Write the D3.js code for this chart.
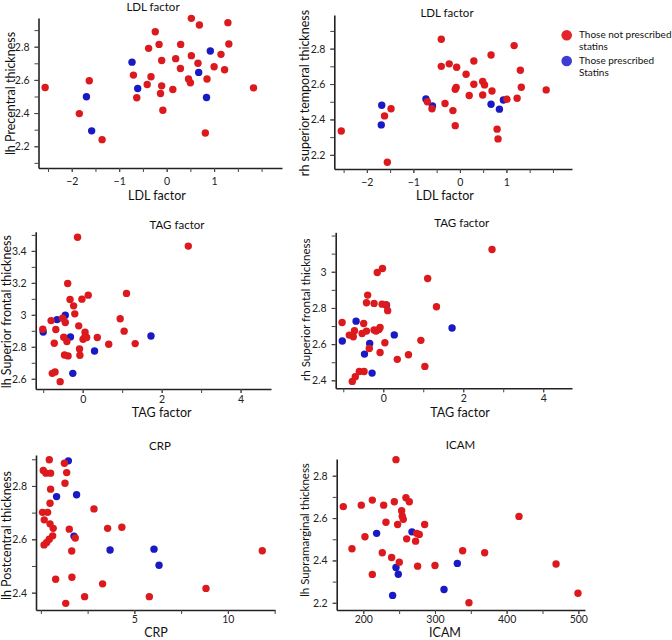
<!DOCTYPE html>
<html><head><meta charset="utf-8">
<script src="https://cdn.jsdelivr.net/npm/d3@7"></script>
<style>
html,body{margin:0;padding:0;background:#fff;}
svg{display:block;font-family:Lato,"Open Sans",sans-serif;}
</style></head>
<body><svg id="c" width="672" height="640"></svg>
<script>
// ---- data ----
const legendLabels = [["Those not prescribed","statins"],["Those prescribed","Statins"]];
const panelTitles = ["LDL factor","LDL factor","TAG factor","TAG factor","CRP","ICAM"];
const xLabels = ["LDL factor","LDL factor","TAG factor","TAG factor","CRP","ICAM"];
const yLabels = ["lh Precentral thickness","rh superior temporal thickness","lh Superior frontal thickness","rh Superior frontal thickness","lh Postcentral thickness","lh Supramarginal thickness"];

const xTicksLDL = [-2,-1,0,1];
const xTicksTAG = [0,2,4];
const xTicksCRP = [5,10];
const xTicksICAM = [200,300,400,500];
const yTicks1 = [2.2,2.4,2.6,2.8];
const yTicks3 = [2.6,2.8,3,3.2,3.4];
const yTicks4 = [2.4,2.6,2.8,3];
const yTicks5 = [2.4,2.6,2.8];

const precentralNo = [[-2.56,2.554],[-1.63,2.595],[-1.84,2.397],[-1.36,2.24],[-0.70,2.629],[-0.63,2.492],[-0.41,2.572],[-0.33,2.619],[-0.38,2.79],[-0.24,2.89],[-0.16,2.814],[-0.105,2.717],[-0.105,2.564],[-0.13,2.518],[-0.08,2.417],[0.13,2.542],[0.19,2.728],[0.29,2.669],[0.295,2.814],[0.46,2.605],[0.5,2.583],[0.52,2.746],[0.52,2.971],[0.69,2.931],[0.66,2.70],[0.85,2.605],[0.815,2.28],[1.0,2.679],[1.145,2.754],[1.22,2.661],[1.29,2.945],[1.31,2.816],[1.83,2.552]];
const precentralYes = [[-1.69,2.498],[-1.58,2.293],[-0.73,2.707],[-0.61,2.548],[0.675,2.645],[0.92,2.774],[0.84,2.494]];

const temporalNo = [[-2.55,2.335],[-1.56,2.158],[-1.62,2.42],[-1.48,2.46],[-0.70,2.50],[-0.60,2.46],[-0.32,2.49],[-0.40,2.853],[-0.40,2.70],[-0.23,2.714],[-0.07,2.695],[-0.10,2.57],[-0.08,2.58],[-0.15,2.45],[-0.10,2.365],[1.166,2.817],[0.67,2.764],[0.30,2.73],[0.133,2.655],[1.30,2.678],[0.49,2.614],[0.53,2.595],[0.30,2.599],[0.69,2.561],[1.32,2.582],[1.855,2.567],[0.20,2.535],[0.49,2.538],[1.01,2.514],[1.23,2.52],[0.80,2.345],[0.82,2.29]];
const temporalYes = [[-1.68,2.48],[-1.69,2.369],[-0.73,2.516],[-0.59,2.476],[0.67,2.486],[0.85,2.458],[0.935,2.51]];

const lhFrontalNo = [[-0.13,3.485],[2.675,3.43],[-0.38,3.196],[1.11,3.134],[0.14,3.123],[-0.02,3.098],[-0.32,3.096],[-0.23,3.056],[-0.20,3.006],[-0.80,2.964],[-0.51,2.979],[-0.44,2.952],[0.95,2.975],[-0.10,2.931],[-1.01,2.91],[-0.68,2.908],[0.06,2.891],[1.05,2.898],[0.06,2.864],[-0.48,2.86],[0.01,2.847],[0.10,2.858],[0.37,2.858],[-0.40,2.833],[-0.72,2.822],[0.66,2.816],[1.33,2.82],[-0.08,2.787],[-0.07,2.747],[-0.46,2.749],[-0.37,2.743],[-0.77,2.634],[-0.70,2.643],[-0.57,2.582]];
const lhFrontalYes = [[-1.0,2.893],[-0.65,2.97],[-0.44,2.998],[-0.31,2.862],[0.30,2.774],[-0.25,2.634],[1.73,2.868]];

const rhFrontalNo = [[2.72,3.123],[-0.02,3.018],[-0.15,2.996],[1.11,2.963],[-0.39,2.871],[-0.42,2.829],[-0.23,2.825],[-0.03,2.821],[0.07,2.818],[0.11,2.785],[1.33,2.807],[-1.03,2.72],[-0.49,2.714],[-0.72,2.674],[-0.85,2.65],[-0.75,2.641],[-0.53,2.659],[-0.42,2.672],[-0.23,2.678],[-0.11,2.681],[-0.08,2.692],[-0.18,2.672],[-0.35,2.576],[0.04,2.608],[-0.08,2.554],[0.94,2.621],[0.63,2.541],[0.35,2.516],[1.04,2.477],[-0.48,2.449],[-0.6,2.449],[-0.70,2.42],[-0.775,2.394]];
const rhFrontalYes = [[-0.68,2.727],[-1.025,2.617],[-0.34,2.604],[-0.47,2.545],[0.275,2.651],[-0.28,2.44],[1.72,2.689],[0.08,2.815]];

const postcentralNo = [[0.45,2.898],[1.26,2.885],[0.13,2.858],[0.27,2.848],[0.52,2.848],[1.38,2.85],[1.29,2.81],[0.52,2.788],[0.49,2.735],[2.84,2.714],[0.09,2.701],[0.36,2.701],[0.18,2.673],[0.49,2.658],[0.66,2.641],[1.52,2.638],[3.57,2.641],[4.33,2.645],[0.63,2.613],[0.45,2.60],[0.31,2.588],[0.17,2.579],[1.84,2.605],[1.65,2.556],[0.79,2.45],[1.66,2.458],[3.30,2.433],[2.34,2.385],[1.33,2.36],[5.80,2.385],[8.83,2.416],[11.84,2.557]];
const postcentralYes = [[1.47,2.894],[0.84,2.76],[1.91,2.767],[1.77,2.612],[3.70,2.56],[6.05,2.563],[6.32,2.503]];

const supramarginalNo = [[245.6,2.876],[172.1,2.654],[197.2,2.661],[212.6,2.685],[228.4,2.661],[243.3,2.677],[259.5,2.696],[264.2,2.677],[253.5,2.635],[254.4,2.609],[255.8,2.594],[231.6,2.58],[247.9,2.57],[285.6,2.57],[202.3,2.512],[260.5,2.502],[274.4,2.528],[278.1,2.523],[273,2.491],[184.2,2.455],[226.5,2.436],[239.5,2.414],[250.2,2.392],[275.8,2.373],[300,2.376],[212.6,2.334],[338.6,2.446],[369.3,2.436],[347.4,2.2],[417.2,2.608],[468.9,2.383],[499.5,2.245]];
const supramarginalYes = [[218.6,2.528],[267.9,2.535],[245.6,2.367],[248.8,2.335],[240.9,2.235],[312.6,2.263],[331.2,2.386]];

// ---- layout ----
const RED = "#dc1a1e", BLUE = "#1a1ac4";
const svg = d3.select("#c");

const panels = [
 {no:precentralNo, yes:precentralYes, l:38.5, r:282, t:18, b:168, xd:[-2.70,2.43], yd:[2.069,2.973], xt:xTicksLDL, xm:0.5, yt:yTicks1, ym:0.1, pad:6, title:[153,8.5], xl:[157,196.5], yl:[12,93.5], ylf:12.5},
 {no:temporalNo, yes:temporalYes, l:334.3, r:572, t:15, b:169, xd:[-2.70,2.41], yd:[2.12,2.99], xt:xTicksLDL, xm:0.5, yt:yTicks1, ym:0.1, pad:5.5, title:[447,14], xl:[445,197], yl:[306,93], ylf:12.5},
 {no:lhFrontalNo, yes:lhFrontalYes, l:35.7, r:271, t:231.7, b:389, xd:[-1.19,4.77], yd:[2.536,3.52], xt:xTicksTAG, xm:1, yt:yTicks3, ym:0.1, pad:2.5, title:[177,226], xl:[161.7,414], yl:[8,311.7], ylf:12.5},
 {no:rhFrontalNo, yes:rhFrontalYes, l:335.7, r:572, t:232.3, b:388.3, xd:[-1.19,4.72], yd:[2.356,3.218], xt:xTicksTAG, xm:1, yt:yTicks4, ym:0.1, pad:2.5, title:[461.7,224], xl:[460,414], yl:[307.5,309.7], ylf:11.5},
 {no:postcentralNo, yes:postcentralYes, l:36, r:275, t:455, b:610, xd:[-0.26,12.52], yd:[2.335,2.916], xt:xTicksCRP, xm:2.5, yt:yTicks5, ym:0.1, pad:1.5, title:[160,446.7], xl:[156,633.5], yl:[8,535.5], ylf:12.5},
 {no:supramarginalNo, yes:supramarginalYes, l:336.7, r:585, t:459, b:610, xd:[162.9,509.3], yd:[2.166,2.879], xt:xTicksICAM, xm:50, yt:yTicks1, ym:0.1, pad:1.5, title:[460.5,446], xl:[445,633.5], yl:[306,530], ylf:11.5}
];

const fmtY = d => (Math.round(d*10)/10).toString();

panels.forEach((p,i) => {
  const x = d3.scaleLinear().domain(p.xd).range([p.l,p.r]);
  const y = d3.scaleLinear().domain(p.yd).range([p.b,p.t]);
  const g = svg.append("g");

  // minor ticks
  const xMinor = d3.range(Math.ceil(p.xd[0]/p.xm)*p.xm, p.xd[1]+1e-9, p.xm).filter(v=>Math.abs(v-p.xd[0])>1e-6);
  const yMinor = d3.range(Math.ceil(p.yd[0]/p.ym)*p.ym, p.yd[1]+1e-9, p.ym);

  const gx = g.append("g").attr("transform",`translate(0,${p.b})`)
    .call(d3.axisBottom(x).tickValues(xMinor).tickSize(4).tickSizeOuter(0).tickFormat(""));
  const gy = g.append("g").attr("transform",`translate(${p.l},0)`)
    .call(d3.axisLeft(y).tickValues(yMinor).tickSize(4).tickSizeOuter(0).tickFormat(""));
  [gx,gy].forEach(a=>{
    a.select(".domain").attr("stroke","#222").attr("stroke-width",1.6);
    a.selectAll(".tick line").attr("stroke","#444").attr("stroke-width",1);
  });
  // major labels
  const lx = g.append("g").attr("transform",`translate(0,${p.b})`)
    .call(d3.axisBottom(x).tickValues(p.xt).tickSize(4).tickPadding(p.pad).tickFormat(d3.format("d")));
  lx.select(".domain").remove();
  const ly = g.append("g").attr("transform",`translate(${p.l},0)`)
    .call(d3.axisLeft(y).tickValues(p.yt).tickSize(4).tickPadding(5).tickFormat(fmtY));
  ly.select(".domain").remove();
  [lx,ly].forEach(a=>{
    a.selectAll(".tick line").attr("stroke","#444");
    a.selectAll(".tick text").attr("fill","#222").attr("font-size",10.5).attr("font-family","Lato, sans-serif");
  });

  // points: blue underneath, red on top
  g.append("g").selectAll("circle").data(p.yes).join("circle")
    .attr("cx",d=>x(d[0])).attr("cy",d=>y(d[1])).attr("r",3.7).attr("fill",BLUE);
  g.append("g").selectAll("circle").data(p.no).join("circle")
    .attr("cx",d=>x(d[0])).attr("cy",d=>y(d[1])).attr("r",3.7).attr("fill",RED);

  // titles & labels
  g.append("text").attr("x",p.title[0]).attr("y",p.title[1]).attr("text-anchor","middle")
    .attr("dominant-baseline","middle").attr("font-size",11.5).attr("fill","#111").text(panelTitles[i]);
  g.append("text").attr("x",p.xl[0]).attr("y",p.xl[1]).attr("text-anchor","middle")
    .attr("dominant-baseline","middle").attr("font-size",12.5).attr("fill","#111").text(xLabels[i]);
  g.append("text").attr("transform",`translate(${p.yl[0]},${p.yl[1]}) rotate(-90)`).attr("text-anchor","middle")
    .attr("dominant-baseline","middle").attr("font-size",p.ylf).attr("fill","#111").text(yLabels[i]);
});

// legend
const leg = svg.append("g");
const legColors = ["#e3262c","#3d3dd4"];
const legY = [35.3, 61];
legendLabels.forEach((lab,i)=>{
  leg.append("circle").attr("cx",566.7).attr("cy",legY[i]).attr("r",5.3).attr("fill",legColors[i]);
  lab.forEach((s,j)=>{
    leg.append("text").attr("x",579).attr("y",legY[i]+j*12).attr("dominant-baseline","middle")
      .attr("font-size",10).attr("fill","#111").text(s);
  });
});
</script></body></html>
